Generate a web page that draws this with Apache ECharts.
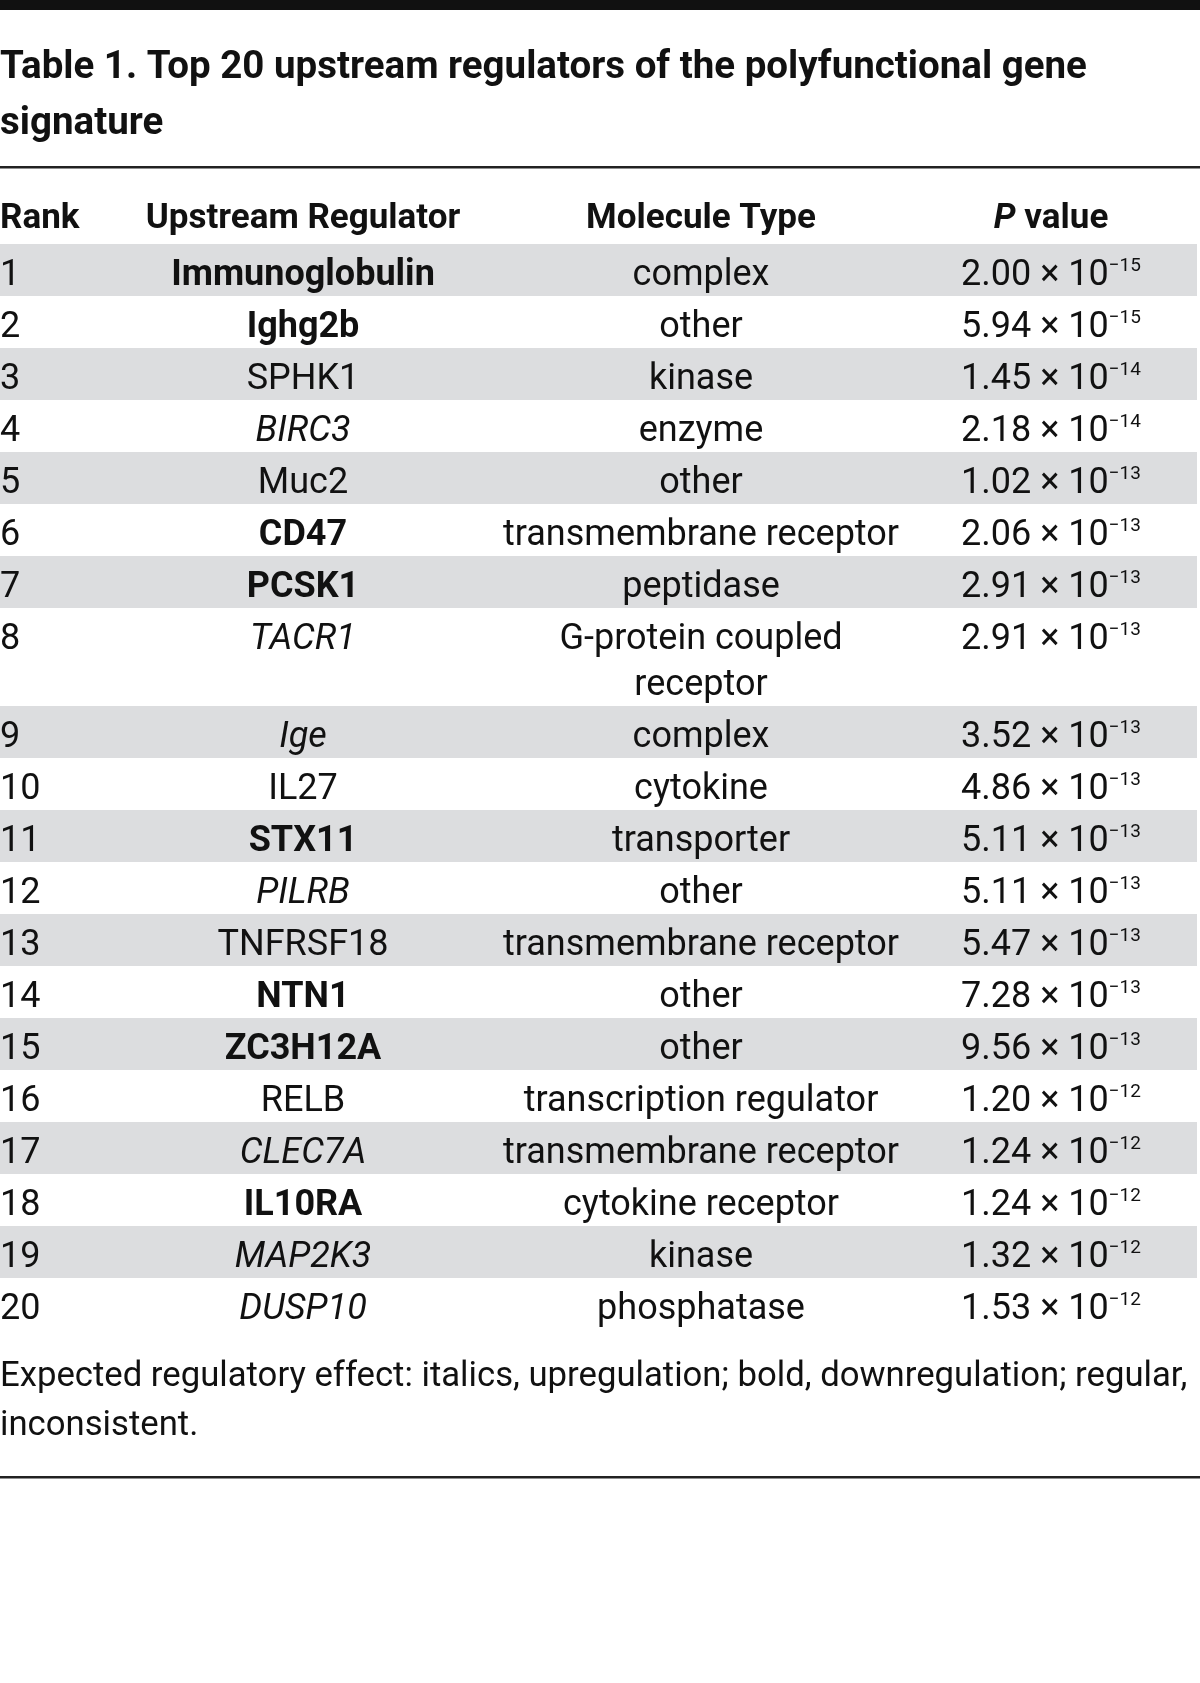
<!DOCTYPE html>
<html>
<head>
<meta charset="utf-8">
<script src="https://cdn.jsdelivr.net/npm/echarts@6/dist/echarts.min.js"></script>
<style>
  html, body { margin: 0; padding: 0; background: #fff; }
  #chart { width: 1200px; height: 1683px; }
</style>
</head>
<body>
<div id="chart"></div>
<script>
// ---------------- DATA ----------------
const titleLines = ['Table 1. Top 20 upstream regulators of the polyfunctional gene', 'signature'];
const headers = ['Rank', 'Upstream Regulator', 'Molecule Type', 'P value'];
const ranks = [1, 2, 3, 4, 5, 6, 7, 8, 9, 10, 11, 12, 13, 14, 15, 16, 17, 18, 19, 20];
const regulators = ['Immunoglobulin', 'Ighg2b', 'SPHK1', 'BIRC3', 'Muc2', 'CD47', 'PCSK1', 'TACR1', 'Ige', 'IL27',
  'STX11', 'PILRB', 'TNFRSF18', 'NTN1', 'ZC3H12A', 'RELB', 'CLEC7A', 'IL10RA', 'MAP2K3', 'DUSP10'];
// expected regulatory effect: 'down' = bold, 'up' = italic, 'inc' = regular
const effects = ['down', 'down', 'inc', 'up', 'inc', 'down', 'down', 'up', 'up', 'inc',
  'down', 'up', 'inc', 'down', 'down', 'inc', 'up', 'down', 'up', 'up'];
const moleculeTypes = ['complex', 'other', 'kinase', 'enzyme', 'other', 'transmembrane receptor', 'peptidase',
  'G-protein coupled\nreceptor', 'complex', 'cytokine', 'transporter', 'other', 'transmembrane receptor', 'other',
  'other', 'transcription regulator', 'transmembrane receptor', 'cytokine receptor', 'kinase', 'phosphatase'];
const pValues = [2.00e-15, 5.94e-15, 1.45e-14, 2.18e-14, 1.02e-13, 2.06e-13, 2.91e-13, 2.91e-13, 3.52e-13, 4.86e-13,
  5.11e-13, 5.11e-13, 5.47e-13, 7.28e-13, 9.56e-13, 1.20e-12, 1.24e-12, 1.24e-12, 1.32e-12, 1.53e-12];
const footnoteLines = ['Expected regulatory effect: italics, upregulation; bold, downregulation; regular,', 'inconsistent.'];

// ---------------- LAYOUT ----------------
const FONT = 'Roboto';
const TEXT = '#111111';
const SHADE = '#dcdddf';
const ROW_H = 52, LINE_H = 46;
const BODY_TOP = 244;
const TABLE_RIGHT = 1197;
const COLX = [0, 303, 701, 1051];
const BODY_SIZE = 36;

const rowHeights = moleculeTypes.map(t => ROW_H + (t.split('\n').length - 1) * LINE_H);
const rowTops = [];
let acc = 0;
rowHeights.forEach(h => { rowTops.push(acc); acc += h; });
const bodyHeight = acc;

function pParts(v) {
  const s = v.toExponential(2).split('e');
  return { m: s[0], e: String(parseInt(s[1], 10)).replace('-', '\u2212') };
}

const chart = echarts.init(document.getElementById('chart'), null, { renderer: 'canvas' });

function renderRow(params, api) {
  const i = api.value(0);
  const top = rowTops[i];
  const h = rowHeights[i];
  const p0 = api.coord([0, top]);
  const p1 = api.coord([TABLE_RIGHT, top + h]);
  const children = [];
  if (i % 2 === 0) {
    children.push({ type: 'rect', shape: { x: p0[0], y: p0[1], width: p1[0] - p0[0], height: p1[1] - p0[1] },
      style: { fill: SHADE } });
  }
  const ty = p0[1] + 32;
  const cx = c => api.coord([COLX[c], top])[0];
  children.push({ type: 'text', style: { text: String(ranks[i]), x: cx(0), y: ty, align: 'left', verticalAlign: 'middle',
    fontFamily: FONT, fontSize: BODY_SIZE, fill: TEXT } });
  const ef = effects[i];
  children.push({ type: 'text', style: { text: regulators[i], x: cx(1), y: ty, align: 'center', verticalAlign: 'middle',
    fontFamily: FONT, fontSize: BODY_SIZE, fill: TEXT,
    fontWeight: ef === 'down' ? 'bold' : 'normal', fontStyle: ef === 'up' ? 'italic' : 'normal' } });
  moleculeTypes[i].split('\n').forEach((ln, k) => {
    children.push({ type: 'text', style: { text: ln, x: cx(2), y: ty + k * LINE_H, align: 'center', verticalAlign: 'middle',
      fontFamily: FONT, fontSize: BODY_SIZE, fill: TEXT } });
  });
  const pp = pParts(pValues[i]);
  children.push({ type: 'text', style: {
    text: '{m|' + pp.m + ' \u00d7 10}{s|' + pp.e + '}', x: cx(3), y: ty, align: 'center', verticalAlign: 'middle',
    rich: {
      m: { fontFamily: FONT, fontSize: BODY_SIZE, fill: TEXT, lineHeight: 44 },
      s: { fontFamily: FONT, fontSize: 19, fill: TEXT, lineHeight: 19, padding: [0, 0, 19, 0] }
    } } });
  return { type: 'group', children };
}

const graphics = [
  { type: 'rect', shape: { x: 0, y: 0, width: 1200, height: 10 }, style: { fill: '#111' } },
  { type: 'rect', shape: { x: 0, y: 166, width: 1200, height: 2.5 }, style: { fill: '#222' } },
  { type: 'rect', shape: { x: 0, y: 1476, width: 1200, height: 2.5 }, style: { fill: '#222' } }
];
titleLines.forEach((t, k) => graphics.push({ type: 'text', left: 0, top: 49 + k * 56,
  style: { text: t, fontFamily: FONT, fontSize: 38.5, fontWeight: 'bold', fill: TEXT } }));
const HEAD_Y = 219, HEAD_SIZE = 35;
graphics.push({ type: 'text', x: COLX[0], y: HEAD_Y, style: { text: headers[0], fontFamily: FONT, fontSize: HEAD_SIZE, fontWeight: 'bold', fill: TEXT, align: 'left', verticalAlign: 'middle' } });
graphics.push({ type: 'text', x: COLX[1], y: HEAD_Y, style: { text: headers[1], fontFamily: FONT, fontSize: HEAD_SIZE, fontWeight: 'bold', fill: TEXT, align: 'center', verticalAlign: 'middle' } });
graphics.push({ type: 'text', x: COLX[2], y: HEAD_Y, style: { text: headers[2], fontFamily: FONT, fontSize: HEAD_SIZE, fontWeight: 'bold', fill: TEXT, align: 'center', verticalAlign: 'middle' } });
graphics.push({ type: 'text', x: COLX[3], y: HEAD_Y, style: {
  text: '{i|P}{b| value}', align: 'center', verticalAlign: 'middle',
  rich: { i: { fontFamily: FONT, fontSize: HEAD_SIZE, fontWeight: 'bold', fontStyle: 'italic', fill: TEXT },
          b: { fontFamily: FONT, fontSize: HEAD_SIZE, fontWeight: 'bold', fill: TEXT } } } });
footnoteLines.forEach((t, k) => graphics.push({ type: 'text', x: 0, y: 1377 + k * 49,
  style: { text: t, fontFamily: FONT, fontSize: 34.7, fill: TEXT, align: 'left', verticalAlign: 'middle' } }));

chart.setOption({
  backgroundColor: '#fff',
  animation: false,
  grid: { left: 0, right: 0, top: BODY_TOP, height: bodyHeight },
  xAxis: { type: 'value', min: 0, max: 1200, show: false },
  yAxis: { type: 'value', min: 0, max: bodyHeight, inverse: true, show: false },
  series: [{
    type: 'custom',
    renderItem: renderRow,
    data: ranks.map((r, i) => [i]),
    silent: true
  }],
  graphic: graphics
});
</script>
</body>
</html>
